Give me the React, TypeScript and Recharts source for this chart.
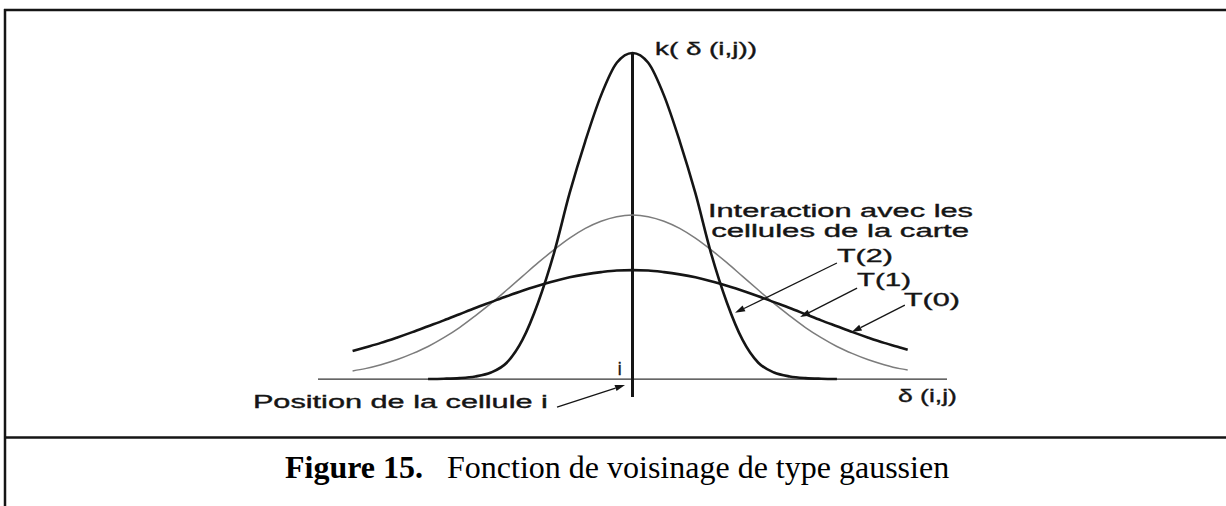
import { LineChart, Line, XAxis, YAxis, ReferenceLine, ReferenceDot } from "recharts";

// distance δ(i,j) from the winning cell (axis runs -10..10)
const xs = [
  -8.9, -8.5, -8, -7.5, -7, -6.5, -6, -5.5, -5, -4.5, -4, -3.5, -3, -2.5, -2, -1.5, -1, -0.5, 0,
  0.5, 1, 1.5, 2, 2.5, 3, 3.5, 4, 4.5, 5, 5.5, 6, 6.5, 7, 7.5, 8, 8.5, 8.75,
];

// T(0): wide, low curve
const t0 = [
  0.086, 0.097, 0.111, 0.127, 0.144, 0.162, 0.18, 0.199, 0.218, 0.236, 0.254, 0.271, 0.286, 0.3, 0.312, 0.321, 0.328, 0.333, 0.334,
  0.333, 0.328, 0.321, 0.312, 0.3, 0.286, 0.271, 0.254, 0.236, 0.218, 0.199, 0.18, 0.162, 0.144, 0.127, 0.111, 0.097, 0.09,
];

// T(1): middle curve (grey)
const t1 = [
  0.025, 0.032, 0.044, 0.059, 0.078, 0.1, 0.127, 0.158, 0.194, 0.232, 0.273, 0.315, 0.357, 0.396, 0.432, 0.462, 0.484, 0.498, 0.503,
  0.498, 0.484, 0.462, 0.432, 0.396, 0.357, 0.315, 0.273, 0.232, 0.194, 0.158, 0.127, 0.1, 0.078, 0.059, 0.044, 0.032, 0.028,
];

// T(2): narrow, tall curve
const t2 = [
  null, null, null, null, null, 0, 0.001, 0.003, 0.008, 0.02, 0.05, 0.12, 0.235, 0.385, 0.57, 0.73, 0.87, 0.97, 1.0,
  0.97, 0.87, 0.73, 0.57, 0.385, 0.235, 0.12, 0.05, 0.02, 0.008, 0.003, 0.001, 0, null, null, null, null, null,
];

const data = xs.map((x, i) => ({ x, t0: t0[i], t1: t1[i], t2: t2[i] }));

const labelFont = "'Liberation Sans', Arial, sans-serif";
const ink = "#151515";

// text annotations, anchored in data coordinates (x = left edge, y = baseline)
const notes = [
  { text: "k( \u03b4 (i,j))", x: 0.715, y: 0.994, w: 102 },
  { text: "Interaction avec les", x: 2.4, y: 0.497, w: 265 },
  { text: "cellules de la carte", x: 2.5, y: 0.435, w: 258 },
  { text: "T(2)", x: 6.5, y: 0.359, w: 56 },
  { text: "T(1)", x: 7.14, y: 0.285, w: 54 },
  { text: "T(0)", x: 8.63, y: 0.224, w: 56 },
  { text: "\u03b4 (i,j)", x: 8.44, y: -0.071, w: 59 },
  { text: "i", x: -0.47, y: 0.012, w: 0 },
  { text: "Position de la cellule i", x: -12.07, y: -0.089, w: 295 },
];

// pointer arrows: from label to curve
const arrows = [
  { from: [-2.4, -0.086], to: [-0.238, -0.018] },
  { from: [6.5, 0.356], to: [3.26, 0.203] },
  { from: [7.14, 0.279], to: [5.33, 0.19] },
  { from: [8.66, 0.227], to: [6.97, 0.144] },
];

function ArrowShape(p: any) {
  const { x1, y1, x2, y2 } = p;
  const a = Math.atan2(y2 - y1, x2 - x1);
  const len = 10;
  const w = 3.2;
  const bx = x2 - len * Math.cos(a);
  const by = y2 - len * Math.sin(a);
  const nx = -Math.sin(a) * w;
  const ny = Math.cos(a) * w;
  return (
    <g>
      <line x1={x1} y1={y1} x2={bx} y2={by} stroke={ink} strokeWidth={1.3} />
      <polygon points={`${x2},${y2} ${bx + nx},${by + ny} ${bx - nx},${by - ny}`} fill={ink} />
    </g>
  );
}

function App() {
  return (
    <div
      style={{
        position: "absolute",
        left: 0,
        top: 0,
        width: 1226,
        height: 506,
        overflow: "hidden",
        background: "#fff",
      }}
    >
      <svg width={1226} height={506} style={{ position: "absolute", left: 0, top: 0 }}>
        <line x1={5} y1={9} x2={5} y2={506} stroke={ink} strokeWidth={2.5} />
        <line x1={4} y1={10} x2={1226} y2={10} stroke={ink} strokeWidth={2.5} />
        <line x1={4} y1={437.5} x2={1226} y2={437.5} stroke={ink} strokeWidth={2.5} />
        <text x={285} y={478} fontFamily="'Liberation Serif', 'Times New Roman', serif" fontSize={32} fontWeight="bold" fill="#000">
          Figure 15.
        </text>
        <text x={447} y={478} fontFamily="'Liberation Serif', 'Times New Roman', serif" fontSize={32} fill="#000">
          Fonction de voisinage de type gaussien
        </text>
      </svg>
      <div style={{ position: "absolute", left: 0, top: 0 }}>
        <LineChart width={1226} height={506} data={data} margin={{ top: 53, right: 279, bottom: 109, left: 318 }}>
          <XAxis type="number" dataKey="x" domain={[-10, 10]} hide />
          <YAxis type="number" domain={[-0.055, 1]} hide />
          <ReferenceLine y={0} stroke="#333" strokeWidth={1.3} />
          <ReferenceLine x={0} stroke={ink} strokeWidth={3} />
          <Line type="monotone" dataKey="t1" stroke="#7c7c7c" strokeWidth={1.5} dot={false} isAnimationActive={false} />
          <Line type="monotone" dataKey="t0" stroke={ink} strokeWidth={2.6} dot={false} isAnimationActive={false} />
          <Line type="monotone" dataKey="t2" stroke={ink} strokeWidth={2.6} dot={false} isAnimationActive={false} />
          {arrows.map((a, i) => (
            <ReferenceLine
              key={"a" + i}
              segment={[
                { x: a.from[0], y: a.from[1] },
                { x: a.to[0], y: a.to[1] },
              ]}
              ifOverflow="visible"
              shape={ArrowShape}
            />
          ))}
          {notes.map((n, i) => (
            <ReferenceDot
              key={"n" + i}
              x={n.x}
              y={n.y}
              ifOverflow="visible"
              shape={(p: any) => (
                <text
                  x={p.cx}
                  y={p.cy}
                  fontFamily={labelFont}
                  fontSize={17.5}
                  fill={ink}
                  stroke={ink}
                  strokeWidth={0.35}
                  {...(n.w ? { textLength: n.w, lengthAdjust: "spacingAndGlyphs" } : {})}
                >
                  {n.text}
                </text>
              )}
            />
          ))}
        </LineChart>
      </div>
    </div>
  );
}

export default App;
